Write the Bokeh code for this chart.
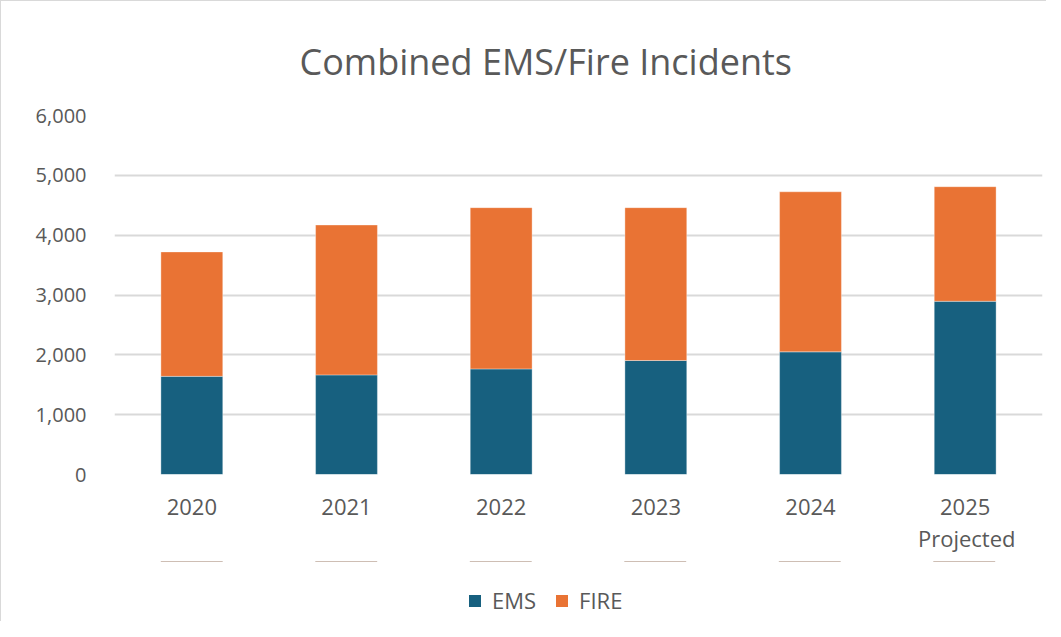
from bokeh.plotting import figure
from bokeh.layouts import column
from bokeh.models import (ColumnDataSource, Legend, LegendItem, NumeralTickFormatter,
                          FixedTicker, Title)
from bokeh.embed import file_html
from bokeh.resources import INLINE

years = ["2020", "2021", "2022", "2023", "2024", "2025"]
ems = [1640, 1665, 1765, 1905, 2050, 2895]
fire = [2080, 2505, 2695, 2555, 2675, 1915]
series = ["EMS", "FIRE"]
colors = ["#17607F", "#E97334"]
title_text = "Combined EMS/Fire Incidents"
projected_note = "Projected"
y_ticks = [0, 1000, 2000, 3000, 4000, 5000, 6000]

FONT = "Open Sans"
GREY = "#595959"

src = ColumnDataSource(dict(year=years, EMS=ems, FIRE=fire))

# main chart
p = figure(x_range=years, y_range=(0, 6000), frame_width=927, frame_height=358,
           output_backend="svg", toolbar_location=None,
           min_border_left=113, min_border_right=5, min_border_top=114,
           min_border_bottom=88, title=title_text)
p.styles = {"border-left": "1px solid #d9d9d9", "border-top": "1px solid #d9d9d9"}

rs = p.vbar_stack(series, x="year", width=0.40, source=src, color=colors,
                  line_color="white", line_width=0.6, line_alpha=0.6)

p.title.align = "left"
p.title.offset = 185
p.title.text_font = FONT
p.title.text_font_size = "36px"
p.title.text_font_style = "normal"
p.title.text_color = GREY
p.title.standoff = 60

p.outline_line_color = None
p.xgrid.grid_line_color = None
p.ygrid.grid_line_color = "#d9d9d9"
p.ygrid.grid_line_width = 2

p.yaxis.ticker = FixedTicker(ticks=y_ticks)
p.yaxis.formatter = NumeralTickFormatter(format="0,0")
for ax in (p.xaxis[0], p.yaxis[0]):
    ax.axis_line_color = None
    ax.major_tick_line_color = None
    ax.minor_tick_line_color = None
    ax.major_label_text_font = FONT
    ax.major_label_text_color = GREY
p.xaxis.major_label_text_font_size = "22px"
p.yaxis.major_label_text_font_size = "20px"
p.yaxis.major_label_standoff = 22
p.xaxis.major_label_standoff = 18

note = Title(text=projected_note, align="right", offset=27, standoff=6,
             text_font=FONT, text_font_size="22px", text_font_style="normal",
             text_color=GREY)
p.add_layout(note, "below")

# legend strip (its bars lie far outside its visible range; only the legend shows)
q = figure(x_range=years, y_range=(-1001, -1000), width=1045, height=60,
           output_backend="svg", toolbar_location=None,
           min_border_left=0, min_border_right=0, min_border_top=0, min_border_bottom=0)
q.styles = {"border-left": "1px solid #d9d9d9"}
q.axis.visible = False
q.grid.visible = False
q.outline_line_color = None
qs = q.vbar_stack(series, x="year", width=0.40, source=src, fill_color=colors,
                  line_color=None)

legend = Legend(items=[LegendItem(label=s, renderers=[r]) for s, r in zip(series, qs)],
                orientation="horizontal", location=(353, 6),
                label_text_font=FONT, label_text_font_size="22px", label_text_color=GREY,
                glyph_width=15, glyph_height=15, label_standoff=10, spacing=18,
                padding=0, margin=0, border_line_color=None, background_fill_alpha=0)
q.add_layout(legend, "center")

layout = column(p, q, spacing=0)
open("out.html", "w").write(file_html(layout, INLINE))
